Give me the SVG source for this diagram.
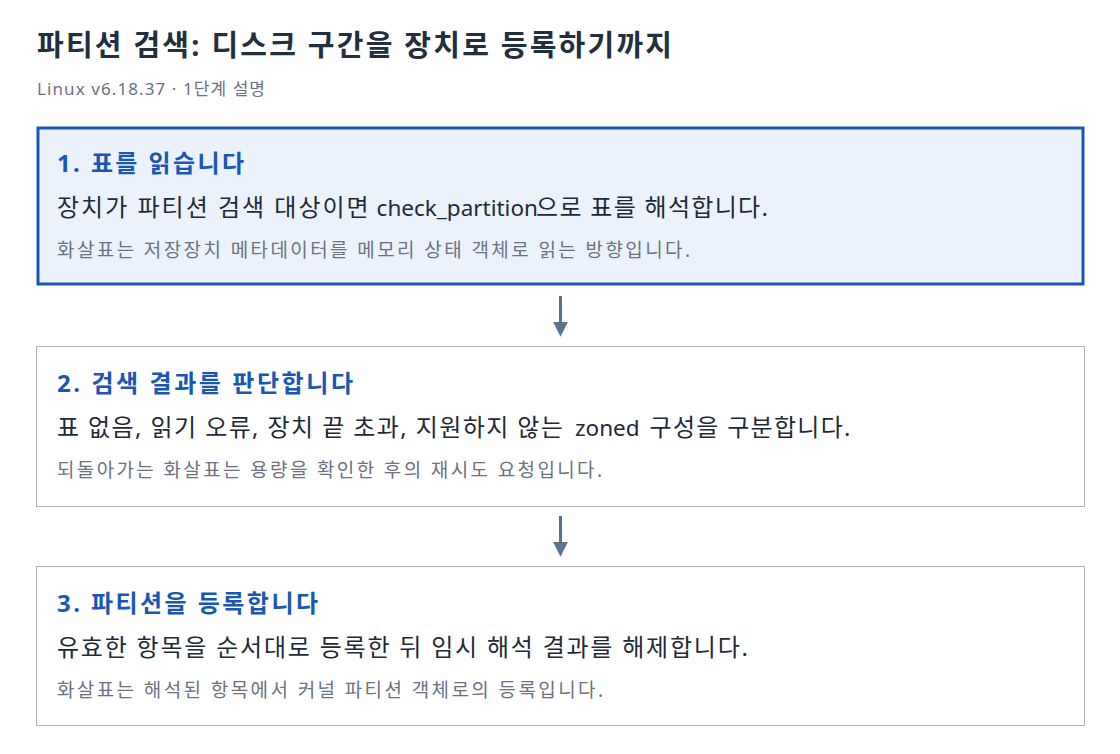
<svg xmlns="http://www.w3.org/2000/svg" width="1120" height="754" viewBox="0 0 1120 754">
<style>
text{font-family:"Noto Sans","Noto Sans CJK KR",sans-serif}
.title{font-size:29px;font-weight:700;fill:#222f3e}
.sub{font-size:17px;fill:#6b7280}
.h{font-size:24px;font-weight:700;fill:#1a56b5}
.b{font-size:24px;fill:#1f2a37}
.lat{font-size:22.5px}
.n{font-size:19px;fill:#6b7280}
.box{fill:#ffffff;stroke:#aab4c2;stroke-width:1}
.act{fill:#ebf2fc;stroke:#1a56b8;stroke-width:3}
.edge{stroke:#5a7390;stroke-width:3;fill:none}
</style>
<defs>
<marker id="ah" viewBox="0 0 10 10" refX="1.5" refY="5" markerWidth="5" markerHeight="5.67" markerUnits="strokeWidth" orient="auto">
<path d="M0,0 L10,5 L0,10 Z" fill="#5a7390"/>
</marker>
</defs>
<rect width="1120" height="754" fill="#ffffff"/>
<text class="title" x="37" y="56" textLength="635" lengthAdjust="spacing">파티션 검색: 디스크 구간을 장치로 등록하기까지</text>
<text class="sub" x="37" y="95" textLength="228" lengthAdjust="spacing">Linux v6.18.37 · 1단계 설명</text>
<g id="edges">
<line class="edge" x1="560.5" y1="296" x2="560.5" y2="324" marker-end="url(#ah)"/>
<line class="edge" x1="560.5" y1="516" x2="560.5" y2="544" marker-end="url(#ah)"/>
</g>
<g id="step1">
<rect class="act" x="38" y="128" width="1045" height="156"/>
<text class="h" x="57" y="172" textLength="187" lengthAdjust="spacing">1. 표를 읽습니다</text>
<text class="b" x="57" y="216" letter-spacing="2">장치가 파티션 검색 대상이면 <tspan class="lat" x="376.6" letter-spacing="0">check_partition</tspan><tspan x="536" letter-spacing="1.3">으로 표를 해석합니다.</tspan></text>
<text class="n" x="57" y="257" textLength="633" lengthAdjust="spacing">화살표는 저장장치 메타데이터를 메모리 상태 객체로 읽는 방향입니다.</text>
</g>
<g id="step2">
<rect class="box" x="36.5" y="346.5" width="1048" height="160"/>
<text class="h" x="57" y="392" textLength="296" lengthAdjust="spacing">2. 검색 결과를 판단합니다</text>
<text class="b" x="57" y="436" letter-spacing="1.4">표 없음, 읽기 오류, 장치 끝 초과, 지원하지 않는 <tspan class="lat" x="575" letter-spacing="0">zoned</tspan><tspan x="642" letter-spacing="1.3"> 구성을 구분합니다.</tspan></text>
<text class="n" x="57" y="477" textLength="545" lengthAdjust="spacing">되돌아가는 화살표는 용량을 확인한 후의 재시도 요청입니다.</text>
</g>
<g id="step3">
<rect class="box" x="36.5" y="566.5" width="1048" height="159"/>
<text class="h" x="57" y="612" textLength="261" lengthAdjust="spacing">3. 파티션을 등록합니다</text>
<text class="b" x="57" y="656" textLength="691" lengthAdjust="spacing">유효한 항목을 순서대로 등록한 뒤 임시 해석 결과를 해제합니다.</text>
<text class="n" x="57" y="697" textLength="546" lengthAdjust="spacing">화살표는 해석된 항목에서 커널 파티션 객체로의 등록입니다.</text>
</g>
</svg>
